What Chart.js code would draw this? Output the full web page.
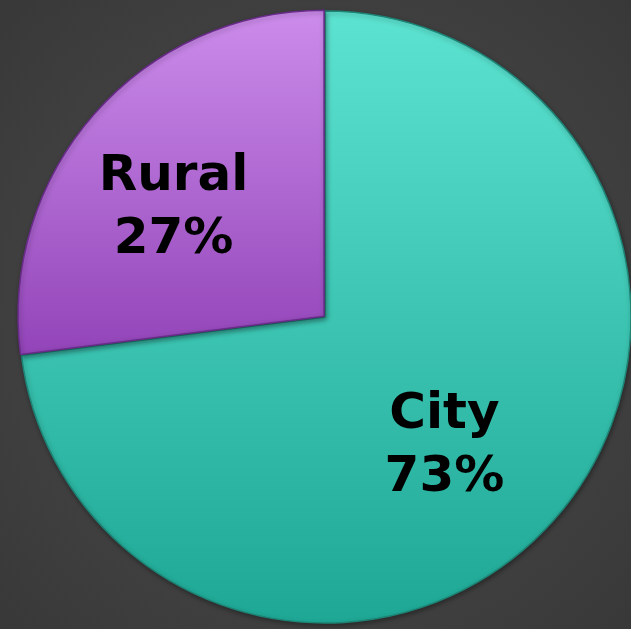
<!DOCTYPE html>
<html>
<head>
<meta charset="utf-8">
<script src="https://cdn.jsdelivr.net/npm/chart.js@4.4.1/dist/chart.umd.min.js"></script>
<style>
  html, body { margin: 0; padding: 0; }
  body {
    width: 631px; height: 629px; overflow: hidden;
    background: radial-gradient(circle at 50% 50%, #4a4a4a 0%, #414141 60%, #383838 100%);
  }
  #wrap { position: relative; width: 631px; height: 629px; }
</style>
</head>
<body>
<div id="wrap"><canvas id="pie"></canvas></div>
<script>
const categories = ['City', 'Rural'];
const shares = [73, 27];
const pctLabels = ['73%', '27%'];

// top / bottom colour of each slice, same order as categories
const topColors = ['#5ce2d0', '#cb8bea'];
const bottomColors = ['#1ea895', '#9244b8'];
const edgeColors = ['#1d8476', '#6a2c8a'];

function sliceFill(context) {
    const chart = context.chart;
    const area = chart.chartArea;
    if (!area) return topColors[context.dataIndex];
    const meta = chart.getDatasetMeta(0);
    const arc = meta.data[context.dataIndex];
    const cy = arc && arc.y ? arc.y : (area.top + area.bottom) / 2;
    const r = arc && arc.outerRadius ? arc.outerRadius : 300;
    const y0 = cy - r;
    const y1 = context.dataIndex === 0 ? cy + r : cy + 40;
    const g = chart.ctx.createLinearGradient(0, y0, 0, y1);
    g.addColorStop(0, topColors[context.dataIndex]);
    g.addColorStop(1, bottomColors[context.dataIndex]);
    return g;
}

// soft drop shadow under the pie
const pieShadow = {
    id: 'pieShadow',
    beforeDatasetsDraw(chart) {
        const c = chart.ctx;
        c.save();
        c.shadowColor = 'rgba(0,0,0,0.35)';
        c.shadowBlur = 5;
        c.shadowOffsetX = 1;
        c.shadowOffsetY = 2;
    },
    afterDatasetsDraw(chart) {
        chart.ctx.restore();
    }
};

// two-line labels inside the slices
const sliceLabels = {
    id: 'sliceLabels',
    afterDraw(chart) {
        const c = chart.ctx;
        const arcs = chart.getDatasetMeta(0).data;
        c.save();
        c.fillStyle = '#000';
        c.textAlign = 'center';
        c.textBaseline = 'alphabetic';
        c.font = 'bold 50px "DejaVu Sans", Verdana, sans-serif';
        arcs.forEach((arc, i) => {
            const mid = (arc.startAngle + arc.endAngle) / 2;
            const d = arc.outerRadius * 0.59;
            const x = arc.x + Math.cos(mid) * d - 16;
            const y = arc.y + Math.sin(mid) * d + 4;
            c.fillText(categories[i], x, y - 12);
            c.fillText(pctLabels[i], x, y + 51);
        });
        c.restore();
    }
};

new Chart(document.getElementById('pie'), {
    type: 'pie',
    data: {
        labels: categories,
        datasets: [{
            data: shares,
            backgroundColor: sliceFill,
            borderColor: edgeColors,
            borderWidth: 1.5,
            offset: [0, 5]
        }]
    },
    options: {
        responsive: true,
        maintainAspectRatio: false,
        animation: false,
        radius: 306,
        layout: { padding: { left: 19, right: 0, top: 5, bottom: 0 } },
        plugins: {
            legend: { display: false },
            tooltip: { enabled: false }
        }
    },
    plugins: [pieShadow, sliceLabels]
});
</script>
</body>
</html>
